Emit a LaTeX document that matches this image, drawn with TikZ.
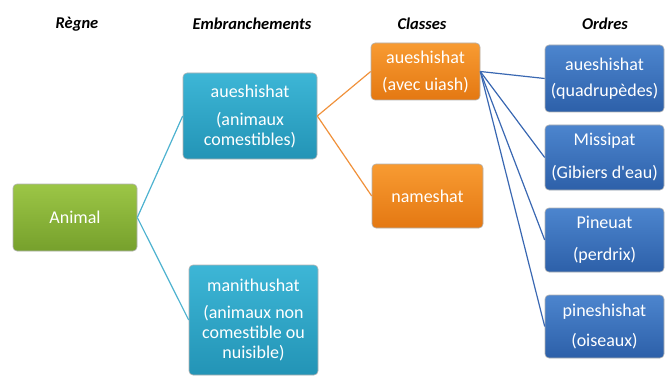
\documentclass[tikz,border=0pt]{standalone}
\usepackage{fontspec}
\setmainfont{Carlito}[BoldFont={Carlito Bold}, ItalicFont={Carlito Italic}, BoldItalicFont={Carlito Bold Italic}]
\usepackage{tikz}

\definecolor{greentop}{HTML}{9CC646}
\definecolor{greenbot}{HTML}{76A02C}
\definecolor{cyantop}{HTML}{3DB6D6}
\definecolor{cyanbot}{HTML}{2394B6}
\definecolor{orangetop}{HTML}{F89B32}
\definecolor{orangebot}{HTML}{E47812}
\definecolor{bluetop}{HTML}{4C85CE}
\definecolor{bluebot}{HTML}{2D60A9}
\definecolor{cyanline}{HTML}{4DB2D0}
\definecolor{orangeline}{HTML}{F0913A}
\definecolor{blueline}{HTML}{3A68B2}

\begin{document}
\begin{tikzpicture}[
    x=1pt, y=-1pt,
    box/.style={rectangle, rounded corners=4pt, draw=white!70!black, line width=0.6pt, text=white, align=center, inner sep=1pt, font=\fontsize{18}{20}\selectfont},
    head/.style={font=\fontsize{16.5}{18}\selectfont\bfseries\itshape},
    link/.style={line width=1.2pt}
]
    \useasboundingbox (0,0) rectangle (666,377);

    % Headers
    \node[head] (hregne) at (77,24) {Règne};
    \node[head] (hemb) at (252,24) {Embranchements};
    \node[head] (hclasses) at (422,24) {Classes};
    \node[head] (hordres) at (605,24) {Ordres};

    % Regne
    \node[box, top color=greentop, bottom color=greenbot, minimum width=124pt, minimum height=67pt] (animal) at (75,217.5) {Animal};

    % Embranchements
    \node[box, top color=cyantop, bottom color=cyanbot, minimum width=134pt, minimum height=86pt] (comest) at (250,116) {aueshishat\\[8pt](animaux\\comestibles)};
    \node[box, top color=cyantop, bottom color=cyanbot, minimum width=129pt, minimum height=110pt] (noncomest) at (253.5,320) {manithushat\\[7pt](animaux non\\comestible ou\\nuisible)};

    % Classes
    \node[box, top color=orangetop, bottom color=orangebot, minimum width=109pt, minimum height=57pt] (uiash) at (425.5,71.5) {aueshishat\\[7pt](avec uiash)};
    \node[box, top color=orangetop, bottom color=orangebot, minimum width=111pt, minimum height=64pt] (nameshat) at (427.5,196) {nameshat};

    % Ordres
    \node[box, top color=bluetop, bottom color=bluebot, minimum width=119pt, minimum height=67pt] (quadru) at (604.5,78.5) {aueshishat\\[6pt](quadrupèdes)};
    \node[box, top color=bluetop, bottom color=bluebot, minimum width=119pt, minimum height=65pt] (gibiers) at (604.5,157.5) {Missipat\\[13pt](Gibiers d\textquotesingle eau)};
    \node[box, top color=bluetop, bottom color=bluebot, minimum width=119pt, minimum height=64pt] (perdrix) at (604.5,240) {Pineuat\\[12pt](perdrix)};
    \node[box, top color=bluetop, bottom color=bluebot, minimum width=119pt, minimum height=63pt] (oiseaux) at (604.5,326.5) {pineshishat\\[10pt](oiseaux)};

    % Connectors
    \draw[link, cyanline] (animal.east) -- (comest.west);
    \draw[link, cyanline] (animal.east) -- (noncomest.west);

    \draw[link, orangeline] (comest.east) -- (uiash.west);
    \draw[link, orangeline] (comest.east) -- (nameshat.west);

    \draw[link, blueline] (uiash.east) -- (quadru.west);
    \draw[link, blueline] (uiash.east) -- (gibiers.west);
    \draw[link, blueline] (uiash.east) -- (perdrix.west);
    \draw[link, blueline] (uiash.east) -- (oiseaux.west);
\end{tikzpicture}
\end{document}
